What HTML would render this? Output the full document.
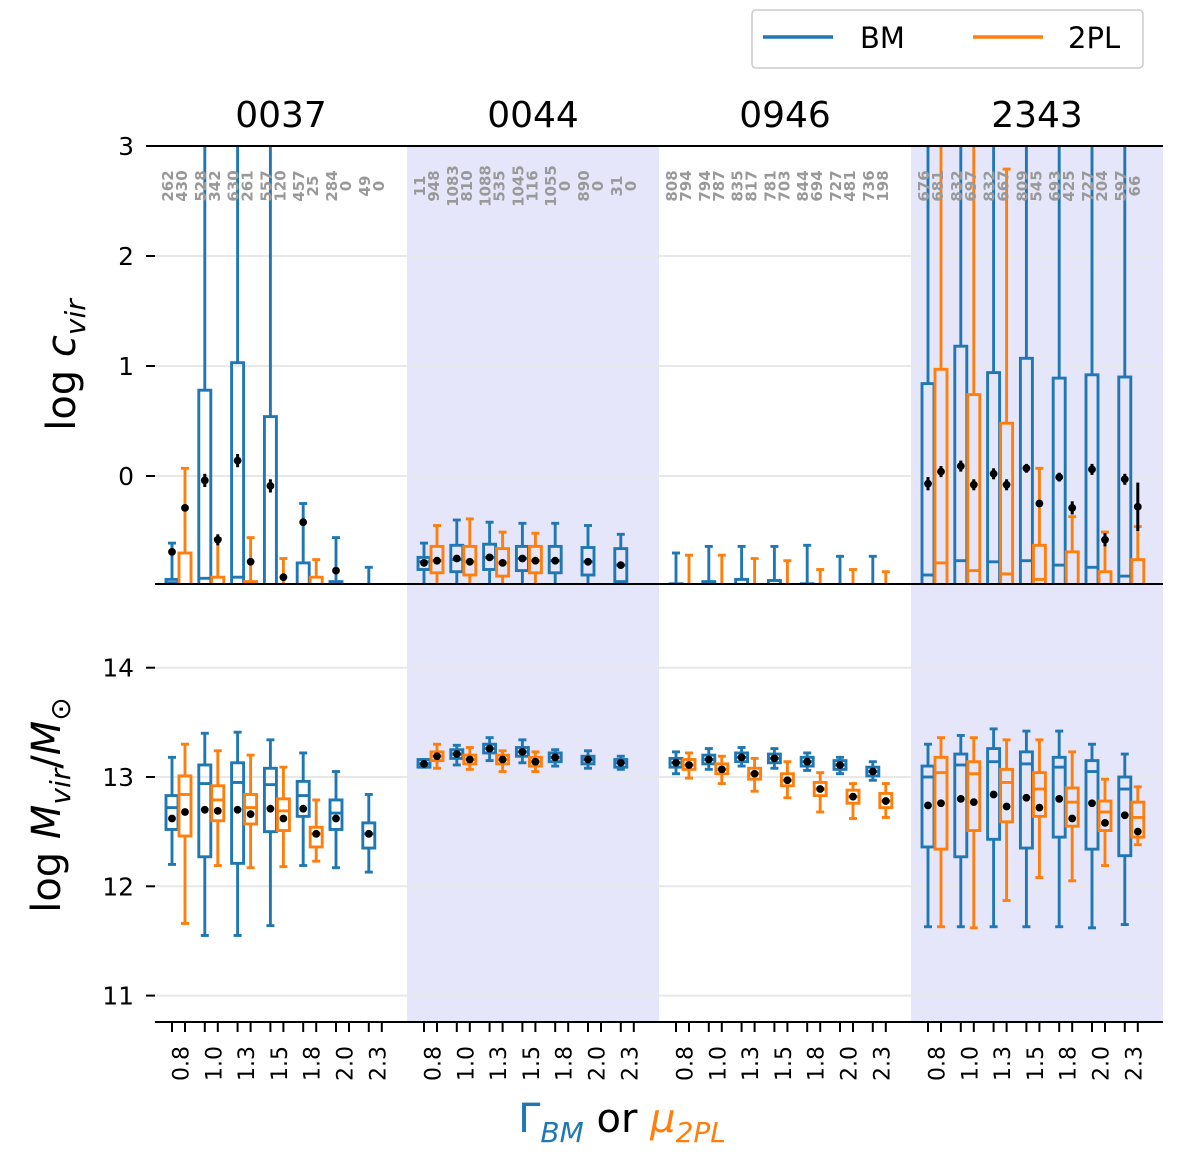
<!DOCTYPE html>
<html><head><meta charset="utf-8"><style>
html,body{margin:0;padding:0;background:#fff}
svg{display:block;font-family:"DejaVu Sans","Liberation Sans",sans-serif}
</style></head><body>
<svg id="chart" width="1200" height="1175" viewBox="0 0 1200 1175" xmlns="http://www.w3.org/2000/svg">
<defs>
<clipPath id="clipTop"><rect x="155" y="146" width="1008" height="437"/></clipPath>
<clipPath id="clipBot"><rect x="155" y="585" width="1008" height="437"/></clipPath>
</defs>
<g id="bg"></g>
<g id="grid"></g>
<g id="marksTop" clip-path="url(#clipTop)"></g>
<g id="marksBot" clip-path="url(#clipBot)"></g>
<g id="axes"></g>
<g id="legend">
<rect x="752" y="10" width="391" height="58" rx="4" fill="#fff" stroke="#ccc" stroke-width="1.5"/>
<line x1="763" y1="37" x2="833" y2="37" stroke="#1f77b4" stroke-width="3.5"/>
<text x="860" y="48" font-size="29" fill="#000">BM</text>
<line x1="973" y1="37" x2="1043" y2="37" stroke="#ff7f0e" stroke-width="3.5"/>
<text x="1068" y="48" font-size="29" fill="#000">2PL</text>
</g>
<text x="75" y="365" font-size="40" text-anchor="middle" transform="rotate(-90 75 365)">log <tspan font-style="italic">c</tspan><tspan font-style="italic" font-size="28" dy="10">vir</tspan></text>
<text x="60" y="805" font-size="40" text-anchor="middle" transform="rotate(-90 60 805)">log <tspan font-style="italic">M</tspan><tspan font-style="italic" font-size="28" dy="10">vir</tspan><tspan dy="-10">/</tspan><tspan font-style="italic">M</tspan><tspan font-size="28" dy="10">⊙</tspan></text>
<text x="622" y="1132" font-size="40" text-anchor="middle"><tspan fill="#1f77b4">Γ</tspan><tspan fill="#1f77b4" font-style="italic" font-size="28" dy="10">BM</tspan><tspan dy="-10"> or </tspan><tspan fill="#ff7f0e" font-style="italic">μ</tspan><tspan fill="#ff7f0e" font-style="italic" font-size="28" dy="10">2PL</tspan></text>
</svg>
<script>
const groups = ["0037","0044","0946","2343"];
const xLabels = ["0.8","1.0","1.3","1.5","1.8","2.0","2.3"];
const countsBM = [[262,528,630,557,457,284,49],[11,1083,1088,1045,1055,890,31],[808,794,835,781,844,727,736],[676,832,832,809,693,727,597]];
const counts2PL = [[430,342,261,120,25,0,0],[948,810,535,116,0,0,0],[794,787,817,703,694,481,198],[681,697,667,545,425,204,66]];
const N = null;
// top panel: log c_vir
const cBM_hi = [[-0.61,5,5,5,-0.25,-0.56,-0.83],[-0.61,-0.40,-0.42,-0.43,-0.43,-0.45,-0.53],[-0.70,-0.64,-0.64,-0.64,-0.63,-0.73,-0.73],[5,5,5,5,5,5,5]];
const cBM_q3 = [[-0.94,0.78,1.03,0.54,-0.79,-0.96,-1.0],[-0.74,-0.63,-0.62,-0.64,-0.64,-0.65,-0.66],[-0.98,-0.96,-0.94,-0.95,-0.98,-0.99,-0.99],[0.84,1.18,0.94,1.07,0.89,0.92,0.90]];
const cBM_med = [[-0.97,-0.93,-0.92,-1.0,-1.0,-1.0,-1.1],[-0.78,-0.76,-0.74,-0.75,-0.77,-0.78,-0.81],[-1.05,-1.05,-1.05,-1.05,-1.05,-1.05,-1.05],[-0.90,-0.77,-0.78,-0.77,-0.81,-0.83,-0.91]];
const cBM_q1 = [[-1.2,-1.2,-1.2,-1.2,-1.2,-1.2,-1.2],[-0.85,-0.87,-0.85,-0.86,-0.88,-0.90,-0.96],[-1.2,-1.2,-1.2,-1.2,-1.2,-1.2,-1.2],[-1.2,-1.2,-1.2,-1.2,-1.2,-1.2,-1.2]];
const cBM_lo = [[-1.5,-1.5,-1.5,-1.5,-1.5,-1.5,-1.5],[-1.5,-1.5,-1.5,-1.5,-1.5,-1.5,-1.5],[-1.5,-1.5,-1.5,-1.5,-1.5,-1.5,-1.5],[-1.5,-1.5,-1.5,-1.5,-1.5,-1.5,-1.5]];
const cBM_mean = [[-0.69,-0.04,0.14,-0.09,-0.42,-0.86,-1.3],[-0.79,-0.75,-0.74,-0.75,-0.77,-0.78,-0.81],[-1.3,-1.3,-1.3,-1.3,-1.3,-1.3,-1.3],[-0.07,0.09,0.02,0.07,-0.01,0.06,-0.03]];
const cBM_err = [[0.03,0.06,0.06,0.06,0.03,0.02,0.02],[0.01,0.01,0.01,0.01,0.01,0.01,0.01],[0,0,0,0,0,0,0],[0.06,0.05,0.05,0.04,0.04,0.05,0.05]];
const c2_hi = [[0.07,-0.57,-0.56,-0.75,-0.76,N,N],[-0.45,-0.39,-0.51,-0.52,N,N,N],[-0.72,-0.72,-0.75,-0.77,-0.85,-0.85,-0.87],[5,5,2.79,0.07,-0.37,-0.51,-0.46]];
const c2_q3 = [[-0.70,-0.92,-0.96,-1.0,-0.92,N,N],[-0.64,-0.64,-0.66,-0.64,N,N,N],[-1.0,-1.0,-1.0,-1.0,-1.0,-1.0,-1.0],[0.97,0.74,0.48,-0.63,-0.69,-0.87,-0.76]];
const c2_med = [[-1.0,-1.0,-1.0,-1.05,-1.0,N,N],[-0.77,-0.78,-0.79,-0.77,N,N,N],[-1.1,-1.1,-1.1,-1.1,-1.1,-1.1,-1.1],[-0.79,-0.86,-0.89,-0.94,-1.0,-1.0,-1.0]];
const c2_q1 = [[-1.2,-1.2,-1.2,-1.2,-1.2,N,N],[-0.88,-0.90,-0.91,-0.88,N,N,N],[-1.2,-1.2,-1.2,-1.2,-1.2,-1.2,-1.2],[-1.2,-1.2,-1.2,-1.2,-1.2,-1.2,-1.2]];
const c2_lo = [[-1.5,-1.5,-1.5,-1.5,-1.5,N,N],[-1.5,-1.5,-1.5,-1.5,N,N,N],[-1.5,-1.5,-1.5,-1.5,-1.5,-1.5,-1.5],[-1.5,-1.5,-1.5,-1.5,-1.5,-1.5,-1.5]];
const c2_mean = [[-0.29,-0.58,-0.78,-0.92,-1.3,N,N],[-0.77,-0.78,-0.79,-0.77,N,N,N],[-1.3,-1.3,-1.3,-1.3,-1.3,-1.3,-1.3],[0.04,-0.08,-0.08,-0.25,-0.29,-0.58,-0.28]];
const c2_err = [[0.02,0.05,0.03,0.01,0,0,0],[0.01,0.01,0.01,0.01,0,0,0],[0,0,0,0,0,0,0],[0.05,0.05,0.05,0.03,0.06,0.06,0.22]];
// bottom panel: log M_vir
const mBM_hi = [[13.18,13.40,13.41,13.34,13.22,13.05,12.84],[13.16,13.29,13.36,13.34,13.25,13.24,13.19],[13.23,13.26,13.27,13.26,13.22,13.18,13.14],[13.30,13.38,13.44,13.42,13.42,13.30,13.21]];
const mBM_q3 = [[12.83,13.11,13.13,13.08,12.96,12.79,12.58],[13.16,13.25,13.30,13.27,13.22,13.19,13.16],[13.17,13.20,13.22,13.21,13.18,13.15,13.09],[13.10,13.21,13.26,13.23,13.18,13.15,13.00]];
const mBM_med = [[12.72,12.94,12.95,12.93,12.83,12.67,12.48],[13.12,13.21,13.26,13.23,13.18,13.16,13.13],[13.13,13.16,13.18,13.17,13.14,13.11,13.05],[13.00,13.11,13.14,13.12,13.09,13.05,12.89]];
const mBM_q1 = [[12.52,12.27,12.21,12.50,12.64,12.52,12.35],[13.09,13.17,13.22,13.19,13.14,13.12,13.09],[13.09,13.12,13.14,13.13,13.10,13.07,13.01],[12.36,12.27,12.43,12.35,12.45,12.34,12.28]];
const mBM_lo = [[12.20,11.55,11.55,11.64,12.19,12.17,12.13],[13.09,13.11,13.15,13.13,13.10,13.08,13.07],[13.03,13.07,13.10,13.08,13.06,13.03,12.97],[11.63,11.63,11.63,11.63,11.63,11.62,11.65]];
const mBM_mean = [[12.62,12.70,12.70,12.71,12.71,12.62,12.48],[13.12,13.21,13.26,13.23,13.18,13.16,13.13],[13.13,13.16,13.18,13.17,13.14,13.11,13.05],[12.74,12.80,12.84,12.81,12.80,12.76,12.65]];
const m2_hi = [[13.30,13.24,13.20,13.09,12.79,N,N],[13.30,13.27,13.24,13.23,N,N,N],[13.22,13.19,13.17,13.14,13.04,12.94,12.94],[13.36,13.36,13.34,13.34,13.23,12.98,12.91]];
const m2_q3 = [[13.01,12.92,12.84,12.80,12.54,N,N],[13.23,13.20,13.20,13.18,N,N,N],[13.16,13.12,13.08,13.03,12.95,12.88,12.85],[13.18,13.14,13.07,13.04,12.90,12.78,12.77]];
const m2_med = [[12.84,12.79,12.72,12.69,12.48,N,N],[13.19,13.16,13.16,13.14,N,N,N],[13.11,13.07,13.03,12.97,12.89,12.82,12.78],[13.04,13.03,12.95,12.89,12.77,12.68,12.63]];
const m2_q1 = [[12.46,12.60,12.57,12.51,12.36,N,N],[13.15,13.12,13.12,13.10,N,N,N],[13.07,13.03,12.98,12.92,12.83,12.76,12.72],[12.34,12.51,12.59,12.64,12.55,12.51,12.45]];
const m2_lo = [[11.66,12.19,12.17,12.18,12.23,N,N],[13.08,13.07,13.05,13.05,N,N,N],[12.99,12.94,12.87,12.81,12.68,12.62,12.63],[11.63,11.62,11.87,12.08,12.05,12.19,12.38]];
const m2_mean = [[12.68,12.69,12.66,12.62,12.48,N,N],[13.19,13.16,13.16,13.14,N,N,N],[13.11,13.07,13.03,12.97,12.89,12.82,12.78],[12.76,12.77,12.73,12.72,12.62,12.58,12.50]];
const topTicks = [0,1,2,3];
const botTicks = [11,12,13,14];

const NS = "http://www.w3.org/2000/svg";
const BLUE = "#1f77b4", ORANGE = "#ff7f0e";
function yTop(v){ return 476 - v*110; }
function yBot(v){ return 777 - (v-13)*109.3; }
function gx(g){ return 155 + g*252; }
function xPos(g,i,s){ return gx(g) + 17 + i*32.8 + (s ? 13 : 0); }
function mk(tag, attrs, parent){
  const e = document.createElementNS(NS, tag);
  for (const k in attrs) e.setAttribute(k, attrs[k]);
  parent.appendChild(e); return e;
}
const bg = document.getElementById('bg'), grid = document.getElementById('grid'), axes = document.getElementById('axes');
[1,3].forEach(g => {
  [[146,437],[585,437]].forEach(([y,h]) => {
    const r = mk('rect',{x:gx(g),y:y,width:252,height:h,fill:'#e6e6fa'},bg);
    
    
  });
});
topTicks.forEach(t => {
  const y = yTop(t);
  if (t < 3) { const l = mk('line',{x1:155,x2:1163,y1:y,y2:y,stroke:'#e8e8e8','stroke-width':2},grid);
      }
  mk('line',{x1:146,x2:155,y1:y,y2:y,stroke:'#000','stroke-width':2},axes);
  const tx = mk('text',{x:134,y:y+9,'font-size':25,'text-anchor':'end'},axes); tx.textContent = t;
   
});
botTicks.forEach(t => {
  const y = yBot(t);
  const l = mk('line',{x1:155,x2:1163,y1:y,y2:y,stroke:'#e8e8e8','stroke-width':2},grid);
   
  mk('line',{x1:146,x2:155,y1:y,y2:y,stroke:'#000','stroke-width':2},axes);
  const tx = mk('text',{x:134,y:y+9,'font-size':25,'text-anchor':'end'},axes); tx.textContent = t;
   
});
mk('line',{x1:155,x2:1163,y1:146,y2:146,stroke:'#000','stroke-width':2},axes);
mk('line',{x1:155,x2:1163,y1:584,y2:584,stroke:'#000','stroke-width':2},axes);
mk('line',{x1:155,x2:1163,y1:1022,y2:1022,stroke:'#000','stroke-width':2},axes);
groups.forEach((name,g) => {
  const t = mk('text',{x:gx(g)+126,y:127,'font-size':36,'text-anchor':'middle'},axes); t.textContent = name;
   
  xLabels.forEach((lab,i) => {
    [0,1].forEach(s => mk('line',{x1:xPos(g,i,s),x2:xPos(g,i,s),y1:1022,y2:1032,stroke:'#000','stroke-width':2},axes));
    const x = xPos(g,i,0)+10;
    const tl = mk('text',{x:x,y:1046,'font-size':22,'text-anchor':'end',transform:`rotate(-90 ${x} 1046)`,'dominant-baseline':'central'},axes);
    tl.textContent = lab;
     
    [[countsBM,-4],[counts2PL,10]].forEach(([arr,dx]) => {
      const cx = xPos(g,i,0)+dx;
      const c = mk('text',{x:cx,y:186,'font-size':15,'font-weight':'bold',fill:'#999','text-anchor':'middle','dominant-baseline':'central',transform:`rotate(-90 ${cx} 186)`},axes);
      c.textContent = arr[g][i];
       
    });
  });
});
function drawBox(parent, x, sc, hi, q3, med, q1, lo, mean, err, color, name){
  if (hi == null) return;
  const grp = mk('g',{},parent);
  
  
  const w = 12, cw = 8, sw = 2.9;
  mk('line',{x1:x,x2:x,y1:sc(hi),y2:sc(q3),stroke:color,'stroke-width':sw},grp);
  mk('line',{x1:x,x2:x,y1:sc(q1),y2:sc(lo),stroke:color,'stroke-width':sw},grp);
  mk('line',{x1:x-cw/2,x2:x+cw/2,y1:sc(hi),y2:sc(hi),stroke:color,'stroke-width':sw},grp);
  mk('line',{x1:x-cw/2,x2:x+cw/2,y1:sc(lo),y2:sc(lo),stroke:color,'stroke-width':sw},grp);
  mk('rect',{x:x-w/2,y:sc(q3),width:w,height:Math.max(0,sc(q1)-sc(q3)),fill:'none',stroke:color,'stroke-width':sw},grp);
  mk('line',{x1:x-w/2,x2:x+w/2,y1:sc(med),y2:sc(med),stroke:color,'stroke-width':sw},grp);
  if (mean != null){
    if (err) mk('line',{x1:x,x2:x,y1:sc(mean+err),y2:sc(mean-err),stroke:'#000','stroke-width':3},grp);
    mk('circle',{cx:x,cy:sc(mean),r:3.9,fill:'#000'},grp);
  }
}
const mt = document.getElementById('marksTop'), mb = document.getElementById('marksBot');
groups.forEach((name,g) => {
  for (let i=0;i<7;i++){
    drawBox(mt, xPos(g,i,0), yTop, cBM_hi[g][i], cBM_q3[g][i], cBM_med[g][i], cBM_q1[g][i], cBM_lo[g][i], cBM_mean[g][i], cBM_err[g][i], BLUE, 'cvir-box-bm-'+name+'-'+xLabels[i]);
    drawBox(mt, xPos(g,i,1), yTop, c2_hi[g][i], c2_q3[g][i], c2_med[g][i], c2_q1[g][i], c2_lo[g][i], c2_mean[g][i], c2_err[g][i], ORANGE, 'cvir-box-2pl-'+name+'-'+xLabels[i]);
    drawBox(mb, xPos(g,i,0), yBot, mBM_hi[g][i], mBM_q3[g][i], mBM_med[g][i], mBM_q1[g][i], mBM_lo[g][i], mBM_mean[g][i], 0.01, BLUE, 'mvir-box-bm-'+name+'-'+xLabels[i]);
    drawBox(mb, xPos(g,i,1), yBot, m2_hi[g][i], m2_q3[g][i], m2_med[g][i], m2_q1[g][i], m2_lo[g][i], m2_mean[g][i], 0.01, ORANGE, 'mvir-box-2pl-'+name+'-'+xLabels[i]);
  }
});
</script>
</body></html>
